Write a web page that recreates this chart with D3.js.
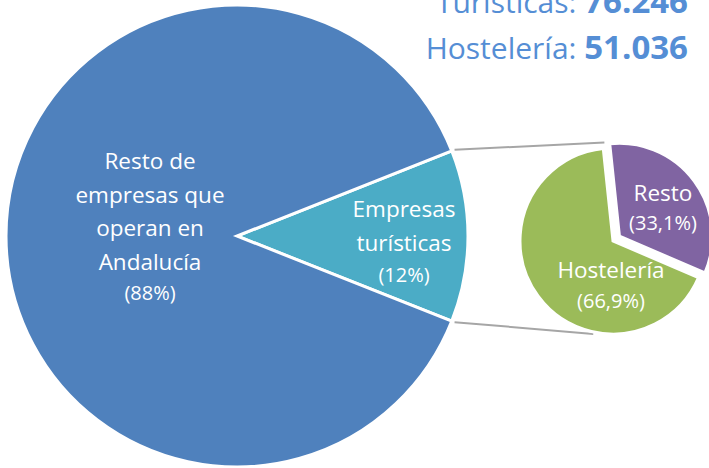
<!DOCTYPE html>
<html>
<head>
<meta charset="utf-8">
<script src="https://cdn.jsdelivr.net/npm/d3@7"></script>
<style>
  html, body { margin: 0; padding: 0; background: #fff; }
  svg { display: block; font-family: "Open Sans", Lato, sans-serif; }
</style>
</head>
<body>
<svg id="chart" width="709" height="468"></svg>
<script>
// Data
const mainNames = ['Empresas turísticas', 'Resto de empresas que operan en Andalucía'];
const mainShares = [12, 88];
const mainLines = [['Empresas', 'turísticas'], ['Resto de', 'empresas que', 'operan en', 'Andalucía']];
const subNames = ['Resto', 'Hostelería'];
const subShares = [33.1, 66.9];
const totalNames = ['Turísticas', 'Hostelería'];
const totalValues = [76246, 51036];

// Config
const width = 709;
const height = 468;
const colorsMain = ['#4BACC6', '#4F81BD'];
const colorsSub = ['#8064A2', '#9BBB59'];
const colorTotals = '#558ED5';
const colorConnector = '#A6A6A6';
const deg = Math.PI / 180;

const locale = d3.formatLocale({ decimal: ',', thousands: '.', grouping: [3], currency: ['', '€'] });
const fmtInt = locale.format(',d');
const fmtPct = v => locale.format('.1f')(v).replace(',0', '') + '%';

const svg = d3.select('#chart');

// Main pie: the small slice is centred on the right
const mainCx = 237, mainCy = 236, mainR = 231;
const mainStart = Math.PI / 2 - (mainShares[0] / 100) * Math.PI;
const mainPie = d3.pie().sort(null).startAngle(mainStart).endAngle(mainStart + 2 * Math.PI);
const mainArcs = mainPie(mainShares);
const mainArc = d3.arc().innerRadius(0).outerRadius(mainR);

const gMain = svg.append('g').attr('transform', `translate(${mainCx},${mainCy})`);
gMain.selectAll('path')
  .data(mainArcs)
  .join('path')
  .attr('d', mainArc)
  .attr('fill', (d, i) => colorsMain[i])
  .attr('stroke', '#fff')
  .attr('stroke-width', 3)
  .attr('stroke-linejoin', 'miter');

// Second pie
const subCx = 613, subCy = 241, subR = 93;
const subStart = -6 * deg;
const subPie = d3.pie().sort(null).startAngle(subStart).endAngle(subStart + 2 * Math.PI);
const subArcs = subPie(subShares);
const subArc = d3.arc().innerRadius(0).outerRadius(subR);
const explode = [8, 0];

// Connector lines from the small slice to the second pie
const smallArc = mainArcs[0];
const pt = (cx, cy, r, a) => [cx + r * Math.sin(a), cy - r * Math.cos(a)];
const connectors = [
  [pt(mainCx, mainCy, mainR + 3, smallArc.startAngle), pt(subCx, subCy, subR + 6, -5 * deg)],
  [pt(mainCx, mainCy, mainR + 3, smallArc.endAngle), pt(subCx, subCy, subR + 2, 192 * deg)]
];
svg.append('g')
  .selectAll('line')
  .data(connectors)
  .join('line')
  .attr('x1', d => d[0][0]).attr('y1', d => d[0][1])
  .attr('x2', d => d[1][0]).attr('y2', d => d[1][1])
  .attr('stroke', colorConnector)
  .attr('stroke-width', 2);

const gSub = svg.append('g').attr('transform', `translate(${subCx},${subCy})`);
gSub.selectAll('path')
  .data(subArcs)
  .join('path')
  .attr('transform', (d, i) => {
    const mid = (d.startAngle + d.endAngle) / 2;
    return `translate(${explode[i] * Math.sin(mid)},${-explode[i] * Math.cos(mid)})`;
  })
  .attr('d', subArc)
  .attr('fill', (d, i) => colorsSub[i])
  .attr('stroke', '#fff')
  .attr('stroke-width', 3);

// Labels
function label(g, x, y, lines, pct, big, small, lh) {
  const t = g.append('text')
    .attr('text-anchor', 'middle')
    .attr('fill', '#fff');
  lines.forEach((l, i) => {
    t.append('tspan').attr('x', x).attr('y', y + i * lh).attr('font-size', big).text(l);
  });
  t.append('tspan').attr('x', x).attr('y', y + lines.length * lh - 3).attr('font-size', small).text('(' + pct + ')');
}

label(gMain, -87, -67, mainLines[1], fmtPct(mainShares[1]), 22.5, 20, 33.5);
label(gMain, 167, -19, mainLines[0], fmtPct(mainShares[0]), 22.5, 20, 34);
label(gSub, -2, 37, [subNames[1]], fmtPct(subShares[1]), 22.5, 20, 33);
label(gSub, 50, -40, [subNames[0]], fmtPct(subShares[0]), 22.5, 20, 32);

// Totals in the top-right corner
const gTot = svg.append('g').attr('fill', colorTotals).attr('text-anchor', 'end');
totalNames.forEach((n, i) => {
  const t = gTot.append('text')
    .attr('x', 688)
    .attr('y', 13 + i * 46)
    .attr('font-size', 30);
  t.append('tspan').text(n + ': ');
  t.append('tspan').attr('font-weight', 'bold').attr('font-size', 33).text(fmtInt(totalValues[i]));
});
</script>
</body>
</html>
